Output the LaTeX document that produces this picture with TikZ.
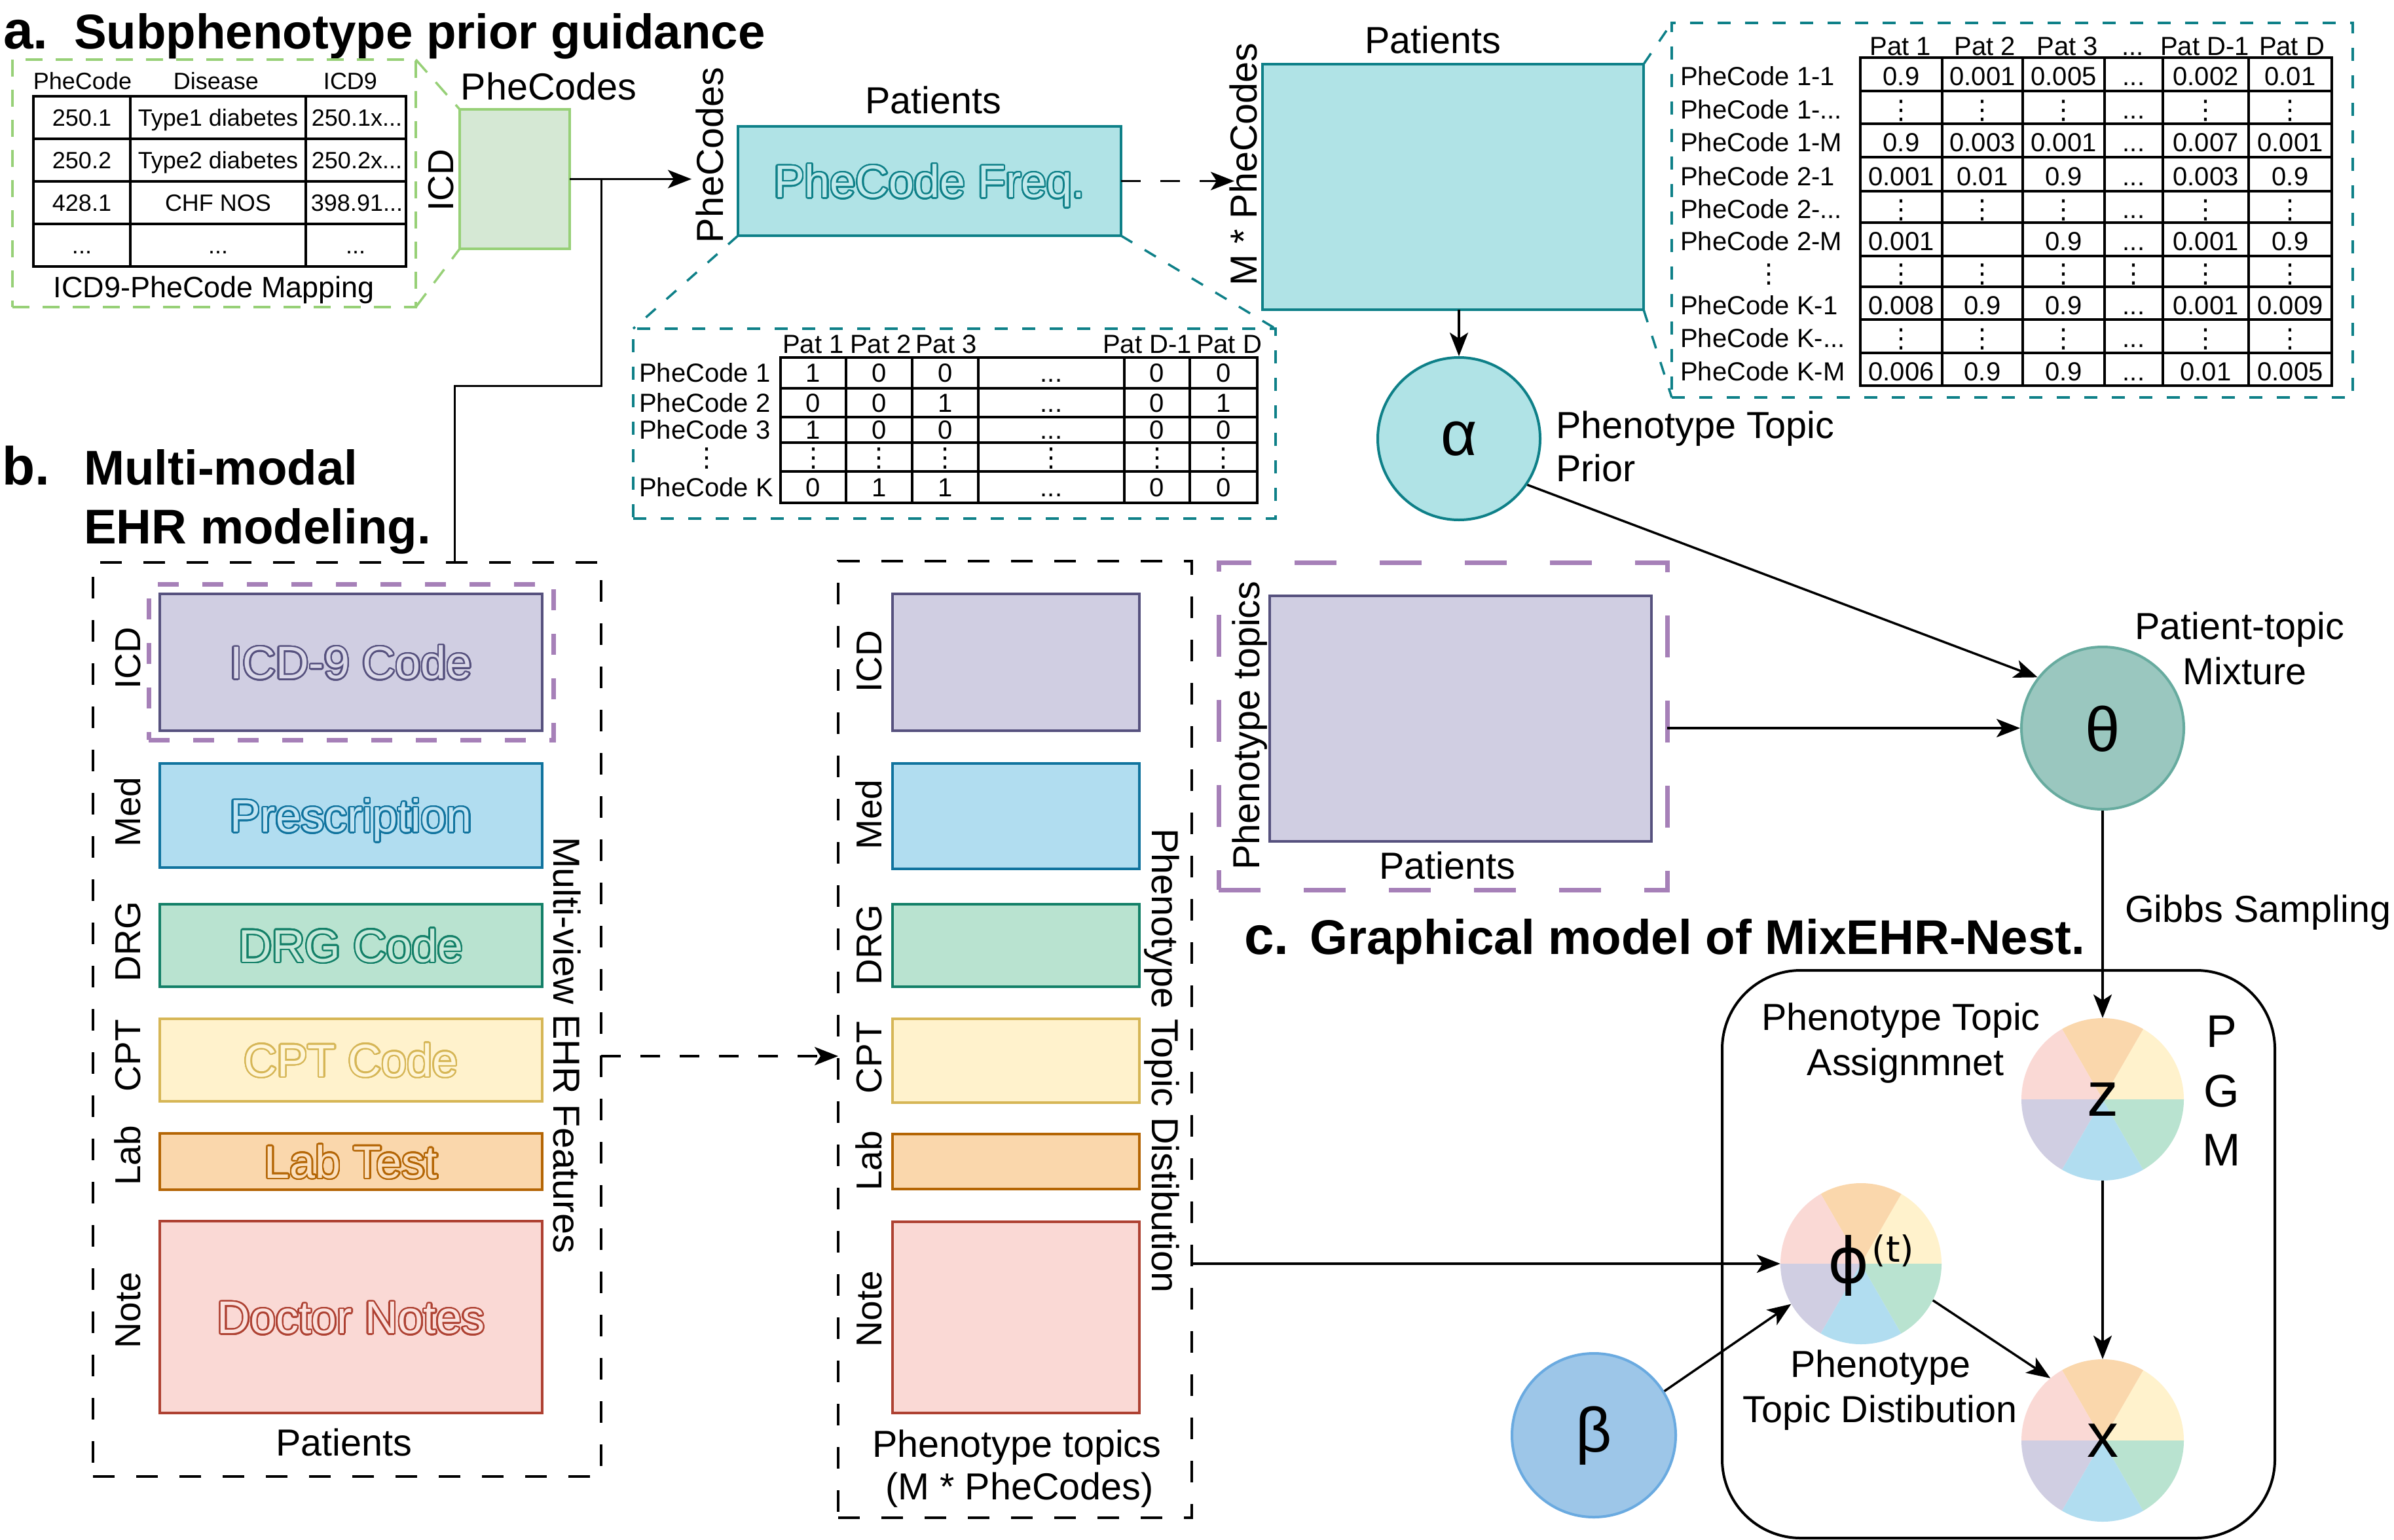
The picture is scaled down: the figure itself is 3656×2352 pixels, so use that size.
\documentclass[tikz,border=0pt]{standalone}
\usepackage{fontspec}
\setmainfont{Liberation Sans}
\newfontfamily\dejavufam{DejaVu Sans}
\usepackage{contour}
\usetikzlibrary{arrows.meta}
\contourlength{2.4pt}
\contournumber{32}
\definecolor{tealF}{HTML}{B0E3E6}
\definecolor{tealS}{HTML}{0E8088}
\definecolor{grnF}{HTML}{D5E8D4}
\definecolor{grnS}{HTML}{97D077}
\definecolor{purF}{HTML}{D0CEE2}
\definecolor{purS}{HTML}{56517E}
\definecolor{bluF}{HTML}{B1DDF0}
\definecolor{bluS}{HTML}{10739E}
\definecolor{mntF}{HTML}{B9E3D0}
\definecolor{mntS}{HTML}{138068}
\definecolor{yelF}{HTML}{FFF2CC}
\definecolor{yelS}{HTML}{D6B656}
\definecolor{orgF}{HTML}{FAD7AC}
\definecolor{orgS}{HTML}{B46504}
\definecolor{redF}{HTML}{FAD9D5}
\definecolor{redS}{HTML}{AE4132}
\definecolor{thF}{HTML}{9AC7BF}
\definecolor{thS}{HTML}{67AB9F}
\definecolor{beF}{HTML}{9DC6E8}
\definecolor{beS}{HTML}{6AAAE0}
\definecolor{dashP}{HTML}{A680B8}
\newcommand\szTitle{\fontsize{74.5}{90}\selectfont\bfseries}
\newcommand\szLet{\fontsize{82}{98}\selectfont\bfseries}
\newcommand\szLab{\fontsize{57.5}{69}\selectfont}
\newcommand\szS{\fontsize{55}{66}\selectfont}
\newcommand\szBox{\fontsize{70}{84}\selectfont}
\newcommand\szGrk{\fontsize{96}{115}\selectfont}
\newcommand\szTab{\fontsize{40}{48}\selectfont}
\newcommand\szMap{\fontsize{36}{43}\selectfont}
\newcommand\szMapT{\fontsize{45}{54}\selectfont}
\newcommand\myell{...}
\newcommand\myvd{{\dejavufam ⋮}}
\newcommand\outl[3]{{\color{#2}\contour{#1}{#3}}}
\newcommand\bx[6]{\node[#6, inner sep=0pt, outer sep=0pt, minimum width={#4-#2}, minimum height={#5-#3}] (#1) at ({(#2+#4)/2},{-(#3+#5)/2}) {};}
\newcommand\mypie[3]{%
 \fill[yelF] (#1,#2) -- ++(0:#3pt) arc[start angle=0,end angle=60,radius=#3pt] -- cycle;
 \fill[orgF] (#1,#2) -- ++(60:#3pt) arc[start angle=60,end angle=120,radius=#3pt] -- cycle;
 \fill[redF] (#1,#2) -- ++(120:#3pt) arc[start angle=120,end angle=180,radius=#3pt] -- cycle;
 \fill[purF] (#1,#2) -- ++(180:#3pt) arc[start angle=180,end angle=240,radius=#3pt] -- cycle;
 \fill[bluF] (#1,#2) -- ++(240:#3pt) arc[start angle=240,end angle=300,radius=#3pt] -- cycle;
 \fill[mntF] (#1,#2) -- ++(300:#3pt) arc[start angle=300,end angle=360,radius=#3pt] -- cycle;}
\tikzset{
  lblLab/.style={font=\szLab, inner sep=0pt, text height=41.4pt, text depth=0pt},
  lblS/.style={font=\szS, inner sep=0pt, text height=39.6pt, text depth=0pt},
  lblBox/.style={font=\szBox, inner sep=0pt, text height=50.4pt, text depth=0pt},
  lblTab/.style={font=\szTab, inner sep=0pt, text height=28.8pt, text depth=0pt},
  lblMap/.style={font=\szMap, inner sep=0pt, text height=25.9pt, text depth=0pt},
  ttl/.style={font=\szTitle, anchor=base west, inner sep=0pt},
  ttlLet/.style={font=\szLet, anchor=base west, inner sep=0pt},
  arr/.style={line width=3.5pt, -{Stealth[length=36pt,width=28pt,inset=9pt]}},
  kdash/.style={draw=black, line width=4pt, dash pattern=on 33pt off 33pt},
  tdash/.style={draw=tealS, line width=3.5pt, dash pattern=on 20pt off 22pt},
  gdash/.style={draw=grnS, line width=3.5pt, dash pattern=on 26pt off 20pt},
  grid/.style={line width=3.5pt},
  colbox/.style={line width=4pt},
}
\begin{document}
\begin{tikzpicture}[x=1pt,y=1pt]
\useasboundingbox (0,0) rectangle (3656,-2352);
\fill[white] (0,0) rectangle (3656,-2352);

%%%%%%%%%%%%%%%% a. %%%%%%%%%%%%%%%%
\node[ttlLet] (aLet) at (5,-75) {a.};
\node[ttl] (aTitle) at (113,-75) {Subphenotype prior guidance};

\bx{mapbox}{19}{91}{635}{469}{gdash}
\node[lblMap] (mh1) at (126,-124) {PheCode};
\node[lblMap] (mh2) at (330,-124) {Disease};
\node[lblMap] (mh3) at (535,-124) {ICD9};
\draw[line width=4pt] (51,-147) rectangle (620,-407);
\foreach \yy in {212,277,342} \draw[line width=4pt] (51,-\yy) -- (620,-\yy);
\foreach \xx in {199,467} \draw[line width=4pt] (\xx,-147) -- (\xx,-407);
\node[lblMap] (m11) at (125,-179.5) {250.1};
\node[lblMap] (m12) at (333,-179.5) {Type1 diabetes};
\node[lblMap] (m13) at (545,-179.5) {250.1x...};
\node[lblMap] (m21) at (125,-244.5) {250.2};
\node[lblMap] (m22) at (333,-244.5) {Type2 diabetes};
\node[lblMap] (m23) at (545,-244.5) {250.2x...};
\node[lblMap] (m31) at (125,-309.5) {428.1};
\node[lblMap] (m32) at (333,-309.5) {CHF NOS};
\node[lblMap] (m33) at (545,-309.5) {398.91...};
\node[lblMap] (m41) at (125,-374.5) {...};
\node[lblMap] (m42) at (333,-374.5) {...};
\node[lblMap] (m43) at (543,-374.5) {...};
\node[font=\szMapT, inner sep=0pt, text height=32.4pt, text depth=0pt] (mapT) at (327,-438) {ICD9-PheCode Mapping};

\bx{icdbox}{702}{167}{870}{380}{draw=grnS, fill=grnF, colbox}
\draw[gdash] (mapbox.north east) -- (icdbox.north west);
\draw[gdash] (mapbox.south east) -- (icdbox.south west);
\node[lblLab] (pcA) at (838,-132) {PheCodes};
\node[lblS, rotate=90] (icdA) at (673,-275) {ICD};

\bx{freq}{1127}{193}{1712}{360}{draw=tealS, fill=tealF, colbox}
\node[lblBox] (freqT) at (freq) {\outl{tealS}{tealF!80!white}{PheCode Freq.}};
\node[lblLab] (patF) at (1425,-153) {Patients};
\node[lblLab, rotate=90] (pcF) at (1084,-237) {PheCodes};

\bx{bigT}{1928}{98}{2510}{473}{draw=tealS, fill=tealF, colbox}
\node[lblLab] (patB) at (2188,-61) {Patients};
\node[lblLab, rotate=90] (mpc) at (1899,-251) {M * PheCodes};

\coordinate (freqIn) at (1056,-273.5);
\coordinate (jn) at (918,-273.5);
\draw[arr] (icdbox.east) -- (freqIn);
\coordinate (bigIn) at (1885,-276.5);
\draw[arr, dash pattern=on 30pt off 30pt] (freq.east) -- (bigIn);

% lower binary table
\bx{ltab}{967}{502}{1948}{792}{tdash}
\draw[tdash] (freq.south west) -- (ltab.north west);
\draw[tdash] (freq.south east) -- (ltab.north east);
\draw[grid] (1192,-546) rectangle (1920,-768);
\foreach \yy in {593,637,676,720} \draw[grid] (1192,-\yy) -- (1920,-\yy);
\foreach \xx in {1292,1393,1494,1717,1817} \draw[grid] (\xx,-546) -- (\xx,-768);
\node[lblTab] (lh1) at (1242,-525) {Pat 1};
\node[lblTab] (lh2) at (1345,-525) {Pat 2};
\node[lblTab] (lh3) at (1445,-525) {Pat 3};
\node[lblTab] (lh5) at (1752,-525) {Pat D-1};
\node[lblTab] (lh6) at (1877,-525) {Pat D};
\node[lblTab, anchor=west] (lr1) at (976,-569.5) {PheCode 1};
\node[lblTab, anchor=west] (lr2) at (976,-615) {PheCode 2};
\node[lblTab, anchor=west] (lr3) at (976,-656.5) {PheCode 3};
\node[lblTab] (lr4) at (1079,-698) {\myvd};
\node[lblTab, anchor=west] (lr5) at (976,-744) {PheCode K};
\foreach \yy/\vals [count=\r] in {569.5/{1,0,0,\myell,0,0}, 615/{0,0,1,\myell,0,1}, 656.5/{1,0,0,\myell,0,0}, 698/{\myvd,\myvd,\myvd,\myvd,\myvd,\myvd}, 744/{0,1,1,\myell,0,0}} {
  \foreach \v [count=\c] in \vals {
    \pgfmathsetmacro\cx{{1242,1342.5,1443.5,1605.5,1767,1868.5}[\c-1]}
    \node[lblTab] (lt-\r-\c) at (\cx,-\yy) {\v};
  }
}

% right big table
\bx{rtab}{2553}{35}{3593}{607}{tdash}
\draw[tdash] (bigT.north east) -- (rtab.north west);
\draw[tdash] (bigT.south east) -- (rtab.south west);
\draw[grid] (2841,-88) rectangle (3561,-589);
\foreach \yy in {139,189,240,292,340,391,438,488,539} \draw[grid] (2841,-\yy) -- (3561,-\yy);
\foreach \xx in {2966,3089,3214,3303,3434} \draw[grid] (\xx,-88) -- (\xx,-589);
\node[lblTab] (rh1) at (2902,-70) {Pat 1};
\node[lblTab] (rh2) at (3031,-70) {Pat 2};
\node[lblTab] (rh3) at (3157,-70) {Pat 3};
\node[lblTab] (rh4) at (3257,-70) {...};
\node[lblTab] (rh5) at (3367,-70) {Pat D-1};
\node[lblTab] (rh6) at (3500,-70) {Pat D};
\foreach \yy/\lab [count=\r] in {116.5/PheCode 1-1, 167/PheCode 1-\myell, 217.5/PheCode 1-M, 269/PheCode 2-1, 319/PheCode 2-\myell, 368.5/PheCode 2-M, 466/PheCode K-1, 516.5/PheCode K-\myell, 567/PheCode K-M} {
  \node[lblTab, anchor=west] (rr-\r) at (2566,-\yy) {\lab};
}
\node[lblTab] (rrv) at (2701,-417.5) {\myvd};
\foreach \yy/\vals [count=\r] in {116.5/{0.9,0.001,0.005,\myell,0.002,0.01}, 167/{\myvd,\myvd,\myvd,\myell,\myvd,\myvd}, 217.5/{0.9,0.003,0.001,\myell,0.007,0.001}, 269/{0.001,0.01,0.9,\myell,0.003,0.9}, 319/{\myvd,\myvd,\myvd,\myell,\myvd,\myvd}, 368.5/{0.001,{},0.9,\myell,0.001,0.9}, 417.5/{\myvd,\myvd,\myvd,\myvd,\myvd,\myvd}, 466/{0.008,0.9,0.9,\myell,0.001,0.009}, 516.5/{\myvd,\myvd,\myvd,\myell,\myvd,\myvd}, 567/{0.006,0.9,0.9,\myell,0.01,0.005}} {
  \foreach \v [count=\c] in \vals {
    \pgfmathsetmacro\cx{{2903.5,3027.5,3151.5,3258.5,3368.5,3497.5}[\c-1]}
    \node[lblTab] (rt-\r-\c) at (\cx,-\yy) {\v};
  }
}

% alpha
\node[circle, draw=tealS, fill=tealF, line width=4pt, minimum size=248pt, inner sep=0pt, font=\szGrk, text height=51pt, text depth=0pt] (alpha) at (2228,-670) {α};
\node[lblLab, anchor=west] (ptp1) at (2376,-649) {Phenotype Topic};
\node[lblLab, anchor=west] (ptp2) at (2376,-715) {Prior};
\draw[arr] (alpha.north |- bigT.south) -- (alpha.north);

%%%%%%%%%%%%%%%% c. %%%%%%%%%%%%%%%%
\node[circle, draw=thS, fill=thF, line width=4pt, minimum size=248pt, inner sep=0pt, font=\szGrk, text height=70pt, text depth=0pt] (theta) at (3211,-1112) {θ};
\node[lblLab] (ptm1) at (3420,-956) {Patient-topic};
\node[lblLab] (ptm2) at (3428,-1025) {Mixture};
\draw[arr] (alpha.-34) -- (theta.142);

\bx{pur}{1861}{859}{2546}{1359}{draw=dashP, line width=7pt, dash pattern=on 64pt off 66pt}
\bx{purIn}{1939}{910}{2522}{1285}{draw=purS, fill=purF, colbox}
\node[lblLab, rotate=90] (ptopics) at (1903,-1108) {Phenotype topics};
\node[lblLab] (patP) at (2210,-1322) {Patients};
\draw[arr] (pur.east |- theta.west) -- (theta.west);

\node[lblLab, anchor=west] (gibbs) at (3245,-1388) {Gibbs Sampling};
\node[ttlLet] (cLet) at (1900,-1457) {c.};
\node[ttl] (cTitle) at (2000,-1457) {Graphical model of MixEHR-Nest.};

\node[draw, line width=4pt, rounded corners=120pt, minimum width=844pt, minimum height=867pt, inner sep=0pt] (pgm) at (3052,-1915.5) {};
\node[lblBox] (pP) at (3393,-1574) {P};
\node[lblBox] (pG) at (3393,-1665) {G};
\node[lblBox] (pM) at (3393,-1755) {M};
\node[lblLab] (pta1) at (2903,-1553) {Phenotype Topic};
\node[lblLab] (pta2) at (2910,-1622) {Assignmnet};

\mypie{3211}{-1679}{124}
\node[circle, minimum size=248pt, inner sep=0pt, font=\szGrk, text height=50pt, text depth=0pt] (z) at (3211,-1679) {z};
\mypie{3211}{-2200}{124}
\node[circle, minimum size=248pt, inner sep=0pt, font=\szGrk, text height=50pt, text depth=0pt] (xnode) at (3211,-2200) {x};
\mypie{2842}{-1930}{123}
\node[circle, minimum size=246pt, inner sep=0pt] (phi) at (2842,-1930) {};
\node[anchor=base west, inner sep=0pt] (phiT) at (2791,-1959) {\szGrk\dejavufam ϕ\hspace{4pt}\raisebox{32pt}{\fontsize{55}{60}\selectfont (t)}};
\node[lblLab] (ptd1) at (2872,-2083) {Phenotype};
\node[lblLab] (ptd2) at (2871,-2152) {Topic Distibution};

\node[circle, draw=beS, fill=beF, line width=4pt, minimum size=250pt, inner sep=0pt, font=\szGrk, text height=70pt, text depth=20pt] (beta) at (2434,-2192) {β};

\draw[arr] (theta.south) -- (z.north);
\draw[arr] (z.south) -- (xnode.north);
\draw[arr] (phi.-27) -- (xnode.130);
\draw[arr] (beta.32) -- (phi.210);

%%%%%%%%%%%%%%%% b. %%%%%%%%%%%%%%%%
\node[ttlLet] (bLet) at (3,-740) {b.};
\node[ttl] (bTitle1) at (128,-740) {Multi-modal};
\node[ttl] (bTitle2) at (128,-830) {EHR modeling.};

\bx{bbox}{142}{859}{918}{2255}{kdash}
\coordinate (jb1) at (918,-589);
\coordinate (jb2) at (694,-589);
\draw[line width=3pt] (jn) -- (jb1) -- (jb2) -- (jb2 |- bbox.north);

\bx{icdP}{227}{892}{845}{1130}{draw=dashP, line width=7pt, dash pattern=on 32pt off 36pt}
\bx{bICD}{244}{907}{828}{1116}{draw=purS, fill=purF, colbox}
\bx{bMed}{244}{1166}{828}{1325}{draw=bluS, fill=bluF, colbox}
\bx{bDRG}{244}{1381}{828}{1507}{draw=mntS, fill=mntF, colbox}
\bx{bCPT}{244}{1556}{828}{1682}{draw=yelS, fill=yelF, colbox}
\bx{bLab}{244}{1731}{828}{1817}{draw=orgS, fill=orgF, colbox}
\bx{bNote}{244}{1865}{828}{2158}{draw=redS, fill=redF, colbox}
\node[lblBox] (tICD) at (bICD) {\outl{purS}{purF!80!white}{ICD-9 Code}};
\node[lblBox] (tMed) at (bMed) {\outl{bluS}{bluF!80!white}{Prescription}};
\node[lblBox] (tDRG) at (bDRG) {\outl{mntS}{mntF!80!white}{DRG Code}};
\node[lblBox] (tCPT) at (bCPT) {\outl{yelS}{yelF!80!white}{CPT Code}};
\node[lblBox] (tLab) at (bLab) {\outl{orgS}{orgF!80!white}{Lab Test}};
\node[lblBox] (tNote) at (bNote) {\outl{redS}{redF!80!white}{Doctor Notes}};
\node[lblS, rotate=90] (lICD) at (195,-1005) {ICD};
\node[lblS, rotate=90] (lMed) at (195,-1240) {Med};
\node[lblS, rotate=90] (lDRG) at (195,-1438) {DRG};
\node[lblS, rotate=90] (lCPT) at (195,-1612) {CPT};
\node[lblS, rotate=90] (lLab) at (195,-1765) {Lab};
\node[lblS, rotate=90] (lNote) at (195,-2001) {Note};
\node[lblLab] (patBb) at (525,-2203) {Patients};
\node[lblLab, rotate=-90] (mvf) at (866,-1596) {Multi-view EHR Features};

\bx{dist}{1280}{857}{1820}{2318}{kdash}
\bx{dICD}{1363}{907}{1740}{1116}{draw=purS, fill=purF, colbox}
\bx{dMed}{1363}{1166}{1740}{1327}{draw=bluS, fill=bluF, colbox}
\bx{dDRG}{1363}{1381}{1740}{1507}{draw=mntS, fill=mntF, colbox}
\bx{dCPT}{1363}{1556}{1740}{1684}{draw=yelS, fill=yelF, colbox}
\bx{dLab}{1363}{1732}{1740}{1816}{draw=orgS, fill=orgF, colbox}
\bx{dNote}{1363}{1866}{1740}{2158}{draw=redS, fill=redF, colbox}
\node[lblS, rotate=90] (rICD) at (1327,-1010) {ICD};
\node[lblS, rotate=90] (rMed) at (1327,-1244) {Med};
\node[lblS, rotate=90] (rDRG) at (1327,-1443) {DRG};
\node[lblS, rotate=90] (rCPT) at (1327,-1615) {CPT};
\node[lblS, rotate=90] (rLab) at (1327,-1773) {Lab};
\node[lblS, rotate=90] (rNote) at (1327,-1999) {Note};
\node[lblLab, rotate=-90] (ptdv) at (1780,-1620) {Phenotype Topic Distibution};
\node[lblLab] (ptp3) at (1553,-2205) {Phenotype topics};
\node[lblLab] (ptp4) at (1557,-2270) {(M * PheCodes)};

\draw[arr, dash pattern=on 30pt off 30pt] (bbox.east |- 0,-1613) -- (dist.west |- 0,-1613);
\draw[arr] (dist.east |- phi.west) -- (phi.west);
\end{tikzpicture}
\end{document}
